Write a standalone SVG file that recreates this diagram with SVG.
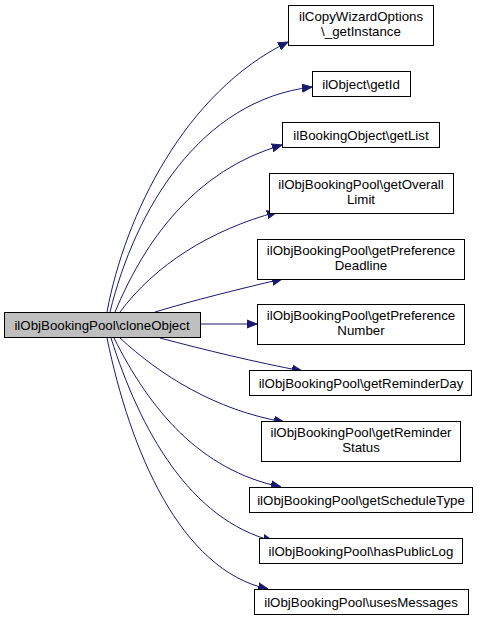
<svg xmlns="http://www.w3.org/2000/svg" width="480" height="621" viewBox="0 0 480 621">
<defs>
<style>
.n rect{fill:#fff;stroke:#000;stroke-width:1}
.m rect{fill:#bfbfbf;stroke:#000;stroke-width:1}
text{font-family:"Liberation Sans",Arial,sans-serif;font-size:13.3px;text-anchor:middle;fill:#000}
.e path{fill:none;stroke:#191970;stroke-width:1}
</style>
<marker id="ah" viewBox="0 0 10 10" refX="10" refY="5" markerWidth="10" markerHeight="10" markerUnits="userSpaceOnUse" orient="auto">
<path d="M0,1 L10,5 L0,9 Z" fill="#191970" stroke="#191970"/>
</marker>
</defs>
<rect width="480" height="621" fill="#fff"/>
<g class="e">
<path d="M107,312 C125,215 185,92 288,42" marker-end="url(#ah)"/>
<path d="M110,312 C135,210 200,100 312,87" marker-end="url(#ah)"/>
<path d="M115,312 C145,240 195,170 282,145" marker-end="url(#ah)"/>
<path d="M120,312 C155,265 210,230 277,212" marker-end="url(#ah)"/>
<path d="M155,312 C195,300 235,290 282,279" marker-end="url(#ah)"/>
<path d="M200,324 L257,324" marker-end="url(#ah)"/>
<path d="M160,338 C205,350 255,362 302,371" marker-end="url(#ah)"/>
<path d="M120,338 C160,375 215,410 284,422" marker-end="url(#ah)"/>
<path d="M114,338 C150,410 200,470 281,487" marker-end="url(#ah)"/>
<path d="M111,338 C140,430 190,520 273,541" marker-end="url(#ah)"/>
<path d="M107,338 C130,450 180,570 268,589" marker-end="url(#ah)"/>
</g>
<g id="main" class="m"><rect x="4.5" y="312.5" width="196" height="25"/><text x="102" y="329.5">ilObjBookingPool\cloneObject</text></g>
<g id="n1" class="n"><rect x="288.5" y="5.5" width="145" height="40"/><text x="361" y="21">ilCopyWizardOptions</text><text x="361" y="36">\_getInstance</text></g>
<g id="n2" class="n"><rect x="312.5" y="71.5" width="98" height="25"/><text x="361" y="88.5">ilObject\getId</text></g>
<g id="n3" class="n"><rect x="282.5" y="122.5" width="157" height="25"/><text x="361" y="139.5">ilBookingObject\getList</text></g>
<g id="n4" class="n"><rect x="269.5" y="173.5" width="184" height="40"/><text x="361" y="189">ilObjBookingPool\getOverall</text><text x="361" y="204">Limit</text></g>
<g id="n5" class="n"><rect x="257.5" y="239.5" width="207" height="40"/><text x="361" y="255">ilObjBookingPool\getPreference</text><text x="361" y="270">Deadline</text></g>
<g id="n6" class="n"><rect x="257.5" y="304.5" width="207" height="40"/><text x="361" y="320">ilObjBookingPool\getPreference</text><text x="361" y="335">Number</text></g>
<g id="n7" class="n"><rect x="249.5" y="370.5" width="222" height="25"/><text x="361" y="387.5">ilObjBookingPool\getReminderDay</text></g>
<g id="n8" class="n"><rect x="261.5" y="421.5" width="199" height="40"/><text x="361" y="437">ilObjBookingPool\getReminder</text><text x="361" y="452">Status</text></g>
<g id="n9" class="n"><rect x="249.5" y="487.5" width="223" height="25"/><text x="361" y="504.5">ilObjBookingPool\getScheduleType</text></g>
<g id="n10" class="n"><rect x="259.5" y="538.5" width="203" height="25"/><text x="361" y="555.5">ilObjBookingPool\hasPublicLog</text></g>
<g id="n11" class="n"><rect x="254.5" y="589.5" width="214" height="25"/><text x="361" y="606.5">ilObjBookingPool\usesMessages</text></g>
</svg>
